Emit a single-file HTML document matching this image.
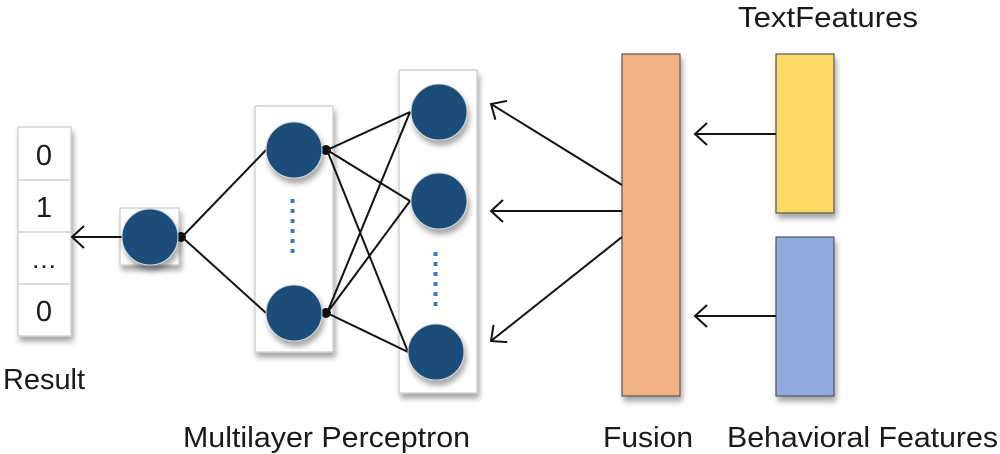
<!DOCTYPE html>
<html><head><meta charset="utf-8"><style>
html,body{margin:0;padding:0;background:#fff;width:1000px;height:454px;overflow:hidden}
text{font-family:"Liberation Sans",sans-serif;fill:#1a1a1a}
</style></head><body>
<svg width="1000" height="454" viewBox="0 0 1000 454" xmlns="http://www.w3.org/2000/svg">
<defs>
<filter id="sh" x="-30%" y="-30%" width="160%" height="160%">
<feGaussianBlur in="SourceAlpha" stdDeviation="3"/><feOffset dx="2" dy="5"/>
<feComponentTransfer><feFuncA type="linear" slope="0.35"/></feComponentTransfer>
<feMerge><feMergeNode/><feMergeNode in="SourceGraphic"/></feMerge></filter>
<marker id="ar" markerWidth="16" markerHeight="24" refX="14" refY="12" orient="auto" markerUnits="userSpaceOnUse">
<path d="M2,1 L14,12 L2,23" fill="none" stroke="#111" stroke-width="2"/></marker>
</defs>
<!-- Result -->
<g filter="url(#sh)">
<rect x="18" y="127" width="53" height="209" fill="#fff" stroke="#c8c8c8" stroke-width="1.2"/>
</g>
<g stroke="#c8c8c8" stroke-width="1.2"><line x1="18" y1="180" x2="71" y2="180"/><line x1="18" y1="232" x2="71" y2="232"/><line x1="18" y1="284" x2="71" y2="284"/></g>
<text x="44" y="165" font-size="29" text-anchor="middle">0</text>
<text x="44" y="217" font-size="29" text-anchor="middle">1</text>
<text x="44" y="268" font-size="26" text-anchor="middle">…</text>
<text x="44" y="321" font-size="29" text-anchor="middle">0</text>
<text x="3" y="389" font-size="29" textLength="82" lengthAdjust="spacingAndGlyphs">Result</text>
<!-- boxes -->
<g filter="url(#sh)" fill="#fff" stroke="#c8c8c8" stroke-width="1.2">
<rect x="120" y="208" width="59" height="57"/>
<rect x="255" y="106" width="78" height="246"/>
<rect x="399" y="70" width="78" height="323"/>
</g>
<!-- lines -->
<g stroke="#111" stroke-width="2" fill="none">
<line x1="122" y1="237" x2="72" y2="237" marker-end="url(#ar)"/>
<line x1="182" y1="237" x2="266" y2="150"/>
<line x1="182" y1="237" x2="266" y2="313"/>
<line x1="327" y1="150" x2="410" y2="112"/>
<line x1="327" y1="150" x2="410" y2="201"/>
<line x1="327" y1="150" x2="408" y2="352"/>
<line x1="327" y1="313" x2="410" y2="112"/>
<line x1="327" y1="313" x2="410" y2="201"/>
<line x1="327" y1="313" x2="408" y2="352"/>
</g>
<g fill="#111"><circle cx="181" cy="237" r="5"/><circle cx="326" cy="150" r="5"/><circle cx="326" cy="313" r="5"/></g>
<g filter="url(#sh)" fill="#1f4e79" stroke="#d0d8e0" stroke-width="1">
<circle cx="150" cy="237" r="28"/>
<circle cx="294" cy="150" r="28"/>
<circle cx="294" cy="313" r="28"/>
<circle cx="439" cy="112" r="28"/>
<circle cx="439" cy="201" r="28"/>
<circle cx="436" cy="352" r="28"/>
</g>
<line x1="292.5" y1="199" x2="292.5" y2="255" stroke="#3a7cc4" stroke-width="4" stroke-dasharray="4,6"/>
<line x1="435.5" y1="252" x2="435.5" y2="308" stroke="#3a7cc4" stroke-width="4" stroke-dasharray="4,6"/>
<!-- fusion -->
<g filter="url(#sh)" stroke="#555" stroke-width="1.2">
<rect x="622" y="54" width="58" height="342" fill="#f3b083"/>
<rect x="776" y="54" width="58" height="159" fill="#ffd966"/>
<rect x="776" y="237" width="58" height="159" fill="#8faadc"/>
</g>
<g stroke="#111" stroke-width="2" fill="none">
<line x1="622" y1="185" x2="491" y2="104" marker-end="url(#ar)"/>
<line x1="622" y1="211" x2="491" y2="211" marker-end="url(#ar)"/>
<line x1="622" y1="237" x2="491" y2="341" marker-end="url(#ar)"/>
<line x1="776" y1="134" x2="695" y2="134" marker-end="url(#ar)"/>
<line x1="776" y1="316" x2="695" y2="316" marker-end="url(#ar)"/>
</g>
<text x="738" y="27" font-size="29" textLength="180" lengthAdjust="spacingAndGlyphs">TextFeatures</text>
<text x="183" y="447" font-size="29" textLength="287" lengthAdjust="spacingAndGlyphs">Multilayer Perceptron</text>
<text x="603" y="447" font-size="29" textLength="90" lengthAdjust="spacingAndGlyphs">Fusion</text>
<text x="727" y="447" font-size="29" textLength="271" lengthAdjust="spacingAndGlyphs">Behavioral Features</text>
</svg>
</body></html>
